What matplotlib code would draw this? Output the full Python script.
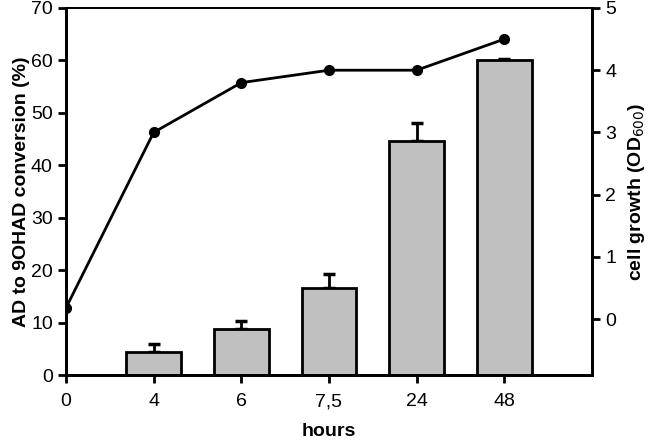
import matplotlib.pyplot as plt
import numpy as np

plt.rcParams["font.family"] = ["Liberation Sans", "DejaVu Sans"]

hours = ["0", "4", "6", "7,5", "24", "48"]
conversion = [0, 4.4, 8.8, 16.5, 44.7, 60.1]
conversion_err = [0, 1.6, 1.5, 2.8, 3.4, 0.1]
od600 = [0.18, 3.0, 3.8, 4.0, 4.0, 4.5]

x = np.arange(len(hours))

fig = plt.figure(figsize=(6.5, 4.42), dpi=100)
ax = fig.add_axes([66 / 650, 1 - 375 / 442, (592 - 66) / 650, (375 - 8) / 442])

# bars (left axis), skip the empty 0 h bar
ax.bar(x[1:], conversion[1:], width=0.62, color="#c0c0c0", edgecolor="black",
       linewidth=2, zorder=2)
ax.errorbar(x[1:], conversion[1:], yerr=[np.zeros(5), conversion_err[1:]],
            fmt="none", ecolor="black", elinewidth=2, capsize=4, capthick=2.5, zorder=1)
ax.set_xlim(0, 6)
ax.set_ylim(0, 70)
ax.set_yticks(range(0, 71, 10))
ax.set_xticks(x)
ax.set_xticklabels(hours)
ax.set_xlabel("hours", fontsize=14, fontweight="bold", labelpad=9)
ax.set_ylabel("AD to 9OHAD conversion (%)", fontsize=14, fontweight="bold", labelpad=1)

# growth curve (right axis)
ax2 = ax.twinx()
ax2.plot(x, od600, color="black", linewidth=2, marker="o", markersize=7, zorder=3)
ax2.set_ylim(-0.9, 5)
ax2.set_yticks(range(0, 6))
ax2.set_ylabel("cell growth (OD$_{600}$)", fontsize=14, fontweight="bold", labelpad=7)

for a in (ax, ax2):
    for s in a.spines.values():
        s.set_linewidth(2)
    a.spines["top"].set_linewidth(1.3)
    a.tick_params(labelsize=14, width=2, length=6, direction="out")
ax.tick_params(axis="x", pad=7)

plt.savefig("out.png", dpi=100)
